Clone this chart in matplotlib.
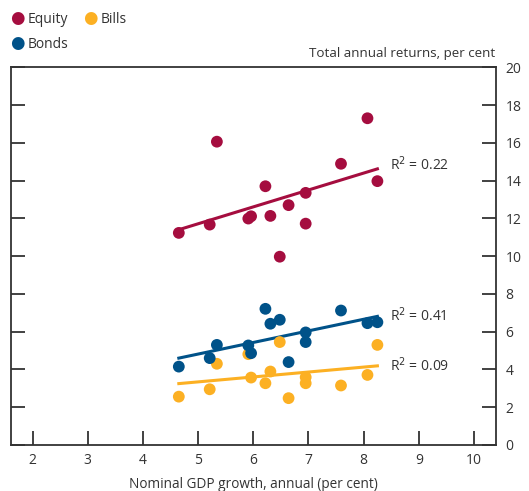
import numpy as np
import matplotlib
matplotlib.use("Agg")
import matplotlib.pyplot as plt

plt.rcParams['font.family'] = ['Open Sans', 'DejaVu Sans']

# nominal GDP growth (shared by all three series)
gdp = [4.65, 5.21, 5.34, 5.91, 5.96, 6.22, 6.31, 6.48, 6.64, 6.95, 6.95, 7.59, 8.07, 8.25]
equity = [11.23, 11.67, 16.06, 11.99, 12.11, 13.70, 12.13, 9.97, 12.70, 13.35, 11.72, 14.89, 17.30, 13.97]
bonds = [4.15, 4.60, 5.30, 5.27, 4.86, 7.21, 6.42, 6.63, 4.39, 5.96, 5.45, 7.12, 6.45, 6.50]
bills = [2.56, 2.95, 4.30, 4.81, 3.57, 3.27, 3.89, 5.45, 2.48, 3.59, 3.27, 3.15, 3.71, 5.30]

# fitted lines as drawn (value at lowest and highest GDP growth)
fit_x = [4.65, 8.25]
equity_fit = [11.40, 14.62]
bonds_fit = [4.60, 6.81]
bills_fit = [3.25, 4.19]
r2 = {"equity": "0.22", "bonds": "0.41", "bills": "0.09"}

red = "#A50D3F"
blue = "#005289"
gold = "#FCB023"
grey = "#333333"

fig = plt.figure(figsize=(5.29, 4.91), dpi=100)
ax = fig.add_axes([0.02, 0.0937, 0.9176, 0.7693])

for ys, fit, col in [(bills, bills_fit, gold), (bonds, bonds_fit, blue), (equity, equity_fit, red)]:
    ax.plot(fit_x, fit, color=col, lw=2.2, zorder=2)
    ax.scatter(gdp, ys, s=72, color=col, edgecolors="none", zorder=3)

ax.text(8.47, equity_fit[1] + 0.2, "R$^2$ = " + r2["equity"], fontsize=10, color=grey, va="center")
ax.text(8.47, bonds_fit[1] + 0.05, "R$^2$ = " + r2["bonds"], fontsize=10, color=grey, va="center")
ax.text(8.47, bills_fit[1], "R$^2$ = " + r2["bills"], fontsize=10, color=grey, va="center")

ax.set_xlim(1.6, 10.4)
ax.set_ylim(0, 20)
ax.set_xticks(range(2, 11))
ax.set_yticks(range(0, 21, 2))
ax.tick_params(axis="x", direction="in", length=10, width=1.3, color=grey,
               labelsize=10, labelcolor=grey, pad=6)
ax.tick_params(axis="y", direction="in", length=10, width=1.3, color=grey,
               left=True, right=True, labelleft=False, labelright=True,
               labelsize=10, labelcolor=grey, pad=7)
for sp in ax.spines.values():
    sp.set_color(grey)
    sp.set_linewidth(1.3)

ax.set_xlabel("Nominal GDP growth, annual (per cent)", fontsize=9.8, color=grey, labelpad=6)
fig.text(0.937, 0.892, "Total annual returns, per cent", ha="right", va="center",
         fontsize=9.6, color=grey)

# legend
fig.text(0.032, 0.961, "\u25CF", color=red, fontsize=12, ha="center", va="center")
fig.text(0.053, 0.961, "Equity", color=grey, fontsize=10, va="center")
fig.text(0.17, 0.961, "\u25CF", color=gold, fontsize=12, ha="center", va="center")
fig.text(0.191, 0.961, "Bills", color=grey, fontsize=10, va="center")
fig.text(0.032, 0.910, "\u25CF", color=blue, fontsize=12, ha="center", va="center")
fig.text(0.053, 0.910, "Bonds", color=grey, fontsize=10, va="center")

fig.savefig("out.png", dpi=100)
